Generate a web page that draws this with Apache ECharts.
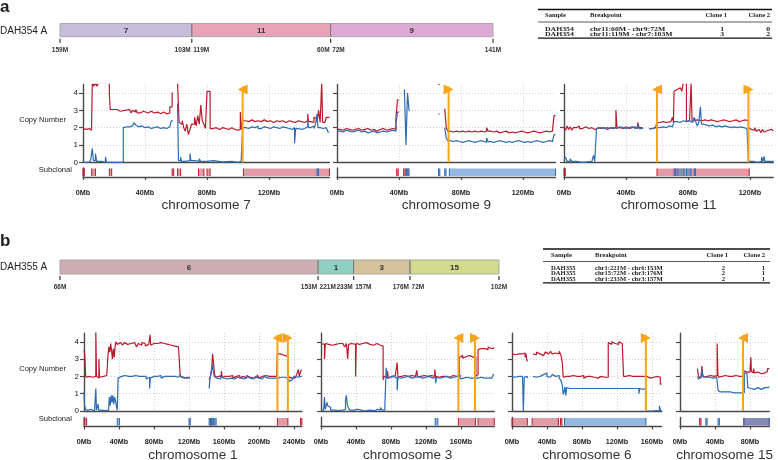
<!DOCTYPE html>
<html>
<head>
<meta charset="utf-8">
<script src="https://cdn.jsdelivr.net/npm/echarts@6/dist/echarts.min.js"></script>
<style>
html, body { margin: 0; padding: 0; background: #fff; }
#main { width: 778px; height: 460px; }
</style>
</head>
<body>
<div id="main"></div>
<script>
// copy number per haplotype, [position Mb, copies]; null = no data
const chr7Major = [[0,1.95],[1,1.9],[2.5,1.95],[4,1.85],[5.5,1.75],[6,4.6],[7,4.4],[8,4.6],[9,4.4],[10,4.6],[17,3.9],[17.6,3.05],[19,2.95],[20,3.05],[22,2.95],[24,2.9],[25,3.0],[27,2.9],[28,3.05],[30,2.95],[31,2.85],[32,3.0],[33,2.9],[34,3.05],[35,2.85],[37,2.95],[39,2.9],[40,2.85],[42,2.95],[44,2.85],[46,2.9],[48,2.8],[50,2.9],[52,2.8],[54,2.7],[55,2.85],[56,3.2],[57.5,4.0],[58,null],[61,4.6],[62,2.3],[63,2.2],[64,2.4],[65,2.0],[66,1.8],[67,2.2],[68,1.6],[69,1.9],[70,2.2],[72,2.6],[73,2.1],[74,2.7],[75,2.2],[76,3.3],[77,2.4],[78,2.2],[79,1.95],[80,4.1],[82,1.95],[84,2.0],[86,1.9],[88,2.0],[90,1.95],[92,1.9],[94,2.0],[96,1.9],[98,1.85],[100,1.9],[101.5,2.9],[102.2,1.9],[103,2.4],[105,2.35],[107,2.45],[109,2.35],[111,2.4],[113,2.35],[115,2.45],[117,2.35],[119,2.4],[121,2.3],[123,2.4],[125,2.35],[127,2.4],[129,2.3],[131,2.4],[133,2.35],[135,2.3],[137,2.4],[139,2.35],[141,2.3],[143,2.4],[145,2.8],[145.5,2.35],[147,2.3],[149,2.6],[150,2.5],[151,2.3],[152,3.0],[153,2.3],[154,4.6],[154.6,2.3],[156,2.35],[157,2.6],[159,2.6]]
const chr7Minor = [[0,0],[4,0.05],[5,0.15],[6,0.8],[6.7,0.1],[8,0.5],[8.8,0.05],[12,0],[14.5,0.3],[15.2,0],[26,2.0],[27,2.05],[28,1.95],[29,2.05],[30,2.0],[31,2.1],[32,2.0],[33,2.3],[34,2.15],[35,2.05],[36,2.1],[38,2.0],[40,2.05],[42,1.95],[44,2.0],[46,2.05],[48,1.95],[50,2.0],[52,1.95],[54,2.05],[56,1.95],[57,2.4],[58,null],[61,3.4],[61.6,0.1],[63,0.3],[63.5,0.05],[66,0.1],[69,0.5],[69.6,0.1],[72,0.05],[75,0.2],[76,0.05],[80,0.1],[84,0.02],[90,0.05],[96,0],[100,0.05],[102,0.1],[103,2.0],[105,1.95],[107,2.05],[109,2.0],[111,2.1],[113,1.95],[115,2.05],[117,2.0],[119,1.95],[121,2.05],[123,2.0],[125,1.95],[127,2.05],[129,2.0],[131,1.95],[133,1.9],[135,2.0],[136.5,1.1],[137.2,1.95],[139,1.9],[141,1.95],[143,2.05],[145,2.4],[145.6,2.0],[147,2.1],[149,1.95],[150,2.2],[151,2.8],[151.6,2.0],[153,1.95],[155,2.0],[157,1.9],[158,1.75],[159,1.75]]
const chr7SubRed = [[0,0.6],[5.6,8],[17,18.5],[57.5,58.5],[61,63],[74.5,78],[80,82],[103.5,159]]
const chr7SubBlue = [[151,152]]
const chr7Flags = [[103,-1]]

const chr9Major = [[0,1.9],[2,1.85],[4,1.95],[6,1.9],[8,1.85],[10,1.9],[12,1.95],[14,1.85],[16,1.9],[18,1.95],[20,1.85],[22,1.9],[24,1.8],[26,1.9],[28,1.95],[30,1.85],[32,1.9],[34,1.95],[36,1.9],[38,2.5],[39,3.6],[40,null],[43,4.6],[46,4.6],[47,null],[65.5,4.5],[66.3,null],[69.5,3.1],[70.5,2.0],[71.5,1.8],[73,1.75],[75,1.8],[77,1.75],[79,1.8],[81,1.75],[83,1.8],[85,1.75],[87,1.8],[89,1.75],[91,1.8],[93,1.75],[95,1.8],[96.5,2.0],[97.5,1.8],[99,1.75],[101,1.8],[103,1.7],[105,1.75],[107,1.8],[109,1.7],[111,1.75],[113,1.7],[115,1.75],[117,1.8],[119,1.75],[121,1.7],[123,1.75],[125,1.8],[127,1.75],[129,1.7],[131,1.75],[133,1.8],[135,1.75],[137,1.8],[139,1.7],[140,2.7],[141,2.7]]
const chr9Minor = [[0,1.8],[2,1.75],[4,1.85],[6,1.8],[8,1.75],[10,1.8],[12,1.85],[14,1.75],[16,1.8],[18,1.7],[20,1.75],[22,1.8],[24,1.7],[26,1.75],[28,1.8],[30,1.75],[32,1.8],[34,1.85],[36,1.8],[38,2.2],[39,2.9],[40,null],[43.5,4.2],[44.5,1.0],[45.5,4.0],[46.5,3.0],[47,null],[65.5,2.8],[66.3,null],[69.5,2.0],[70.5,1.4],[71.5,1.25],[73,1.2],[75,1.25],[77,1.2],[79,1.15],[81,1.2],[83,1.25],[85,1.2],[87,1.15],[89,1.2],[91,1.25],[93,1.2],[95,1.15],[96.5,1.4],[97.5,1.2],[99,1.15],[101,1.2],[103,1.25],[105,1.2],[107,1.15],[109,1.2],[111,1.15],[113,1.2],[115,1.25],[117,1.2],[119,1.15],[121,1.2],[123,1.15],[125,1.2],[127,1.25],[129,1.2],[131,1.15],[133,1.2],[135,1.25],[137,1.2],[139,1.25],[140,1.6],[141,1.6]]
const chr9SubRed = [[38.5,39.5],[43,44],[45,45.6]]
const chr9SubBlue = [[44.5,46.5],[65.5,66.2],[69.5,70.2],[72.5,141]]
const chr9Flags = [[72,1]]

const chr11Major = [[0,2.0],[1,1.85],[2,2.1],[3,1.9],[4,2.05],[5,1.85],[6,2.0],[8,1.9],[9,2.1],[10,1.95],[12,1.85],[13,2.05],[14,1.95],[16,2.0],[18,1.9],[20,2.0],[22,1.95],[24,2.0],[26,1.9],[28,2.0],[30,1.95],[32,2.05],[33.5,3.0],[34.2,2.0],[36,1.95],[38,2.05],[40,1.95],[42,2.0],[44,2.05],[46,1.95],[47.5,2.3],[48.5,2.0],[50,1.95],[51,null],[55,1.95],[57,2.0],[59,1.95],[60,2.3],[62,2.35],[64,2.3],[66,2.4],[67,2.35],[69,2.3],[70,2.6],[70.6,2.3],[71,4.1],[72,4.2],[73,4.1],[74,4.3],[75,4.2],[76,4.1],[77,4.6],[79,2.35],[80,2.4],[81,2.35],[82,4.6],[82.6,2.4],[84,2.45],[86,2.5],[87,2.4],[89,2.45],[91,2.4],[93,2.45],[95,2.4],[97,2.35],[99,2.4],[101,2.45],[103,2.4],[105,2.35],[107,2.4],[109,2.45],[111,2.35],[113,2.4],[115,2.45],[117,2.4],[119,2.0],[120,1.9],[121,1.95],[122,1.85],[123,2.0],[124,1.8],[125,1.9],[126,1.85],[127,1.7],[128,1.9],[129,1.75],[130,1.85],[132,1.8],[133,1.9],[134,1.8],[135,1.8]]
const chr11Minor = [[0,0.1],[1,0.3],[2,0.05],[4,0.2],[5,0.05],[8,0],[12,0.05],[18,0.15],[19,0.4],[19.8,0.05],[21,1.95],[22,2.0],[24,1.95],[26,2.0],[28,1.95],[30,2.0],[32,1.95],[34,2.05],[36,2.0],[38,1.95],[40,2.0],[42,2.05],[44,1.95],[46,2.0],[47.5,2.2],[48.5,1.95],[50,2.0],[51,null],[55,1.95],[57,2.0],[59,1.95],[60,2.0],[62,2.05],[64,2.0],[66,2.1],[68,2.05],[70,2.1],[71,2.35],[73,2.3],[75,2.4],[77,2.35],[79,2.4],[81,2.3],[83,2.4],[84,2.6],[85,2.35],[86,2.1],[87,2.3],[88,3.2],[88.7,2.2],[90,2.15],[92,2.1],[94,2.15],[96,2.05],[98,2.1],[100,2.05],[102,2.1],[104,2.05],[106,2.0],[108,2.05],[110,2.0],[112,2.05],[114,2.0],[116,1.95],[118,2.0],[119,0.05],[122,0],[125,0.05],[127.5,0.3],[128.5,0.05],[129,0.35],[129.6,0.05],[135,0]]
const chr11SubRed = [[0,0.6],[60,119.5]]
const chr11SubBlue = [[71,72],[73,77.5],[79,82],[84,84.8]]
const chr11Flags = [[60,-1],[119,1]]

const chr1Major = [[0,3.5],[0.8,3.3],[2,1.95],[3,1.85],[4,2.0],[6,1.9],[8,1.95],[10,1.85],[12,2.0],[13.5,4.6],[14.3,2.0],[16,1.9],[17,3.0],[17.8,1.95],[20,2.0],[22,1.9],[24,2.05],[26,2.0],[27.5,3.3],[28.5,3.7],[29.5,3.4],[30.5,3.9],[31.5,3.5],[32.5,3.0],[33.5,3.6],[34.5,3.1],[35.5,3.7],[36.5,4.0],[38,3.85],[40,3.95],[42,3.9],[44,3.8],[46,3.95],[48,3.85],[50,3.75],[52,3.9],[54,3.8],[56,3.95],[58,3.85],[60,3.7],[62,3.9],[64,3.8],[66,3.95],[68,3.9],[70,3.75],[72,3.85],[74,3.9],[75.5,4.4],[76.3,3.8],[78,3.9],[80,3.85],[82,3.9],[84,3.8],[86,3.95],[88,3.85],[90,3.9],[92,3.8],[94,3.85],[96,3.9],[98,3.8],[100,3.85],[102,3.75],[104,3.8],[106,3.7],[108,3.75],[110,2.0],[112,1.95],[114,2.05],[116,1.9],[118,2.0],[120,1.95],[121,null],[143,1.8],[144,1.9],[145,2.1],[146,2.5],[147,3.3],[148,2.8],[149,2.2],[150,1.95],[152,2.0],[154,1.9],[156,2.05],[157,2.3],[158,1.95],[160,2.0],[162,1.9],[164,2.0],[166,1.95],[168,2.05],[170,1.9],[172,2.0],[174,1.95],[176,2.05],[178,1.9],[180,2.0],[182,1.95],[184,1.9],[186,2.05],[188,1.95],[190,2.0],[192,1.9],[194,2.0],[196,1.95],[198,2.1],[200,1.9],[202,2.0],[204,1.95],[206,2.05],[208,1.95],[210,2.0],[212,1.9],[214,2.0],[216,1.95],[218,2.0],[220,1.95],[221,3.3],[224,3.25],[227,3.2],[230,3.15],[233,2.0],[235,1.9],[237,1.8],[239,1.9],[241,2.0],[243,2.1],[245,2.4],[246,2.0],[248,2.35],[249,2.35]]
const chr1Minor = [[0,1.1],[0.6,0.3],[1.5,0.2],[2.5,0.05],[5,0.1],[8,0],[12,0.05],[13.5,1.3],[14.2,0.05],[16,0.4],[16.8,0.05],[20,0.02],[24,0.05],[28,0.1],[29,0.8],[30,0.3],[31,0.9],[32,0.5],[33,0.9],[34,0.4],[35,0.8],[36,0.6],[37,0.3],[38,0.05],[39,1.9],[41,2.0],[43,1.95],[45,2.05],[47,1.95],[49,2.0],[51,1.9],[53,2.0],[55,1.95],[57,2.05],[59,1.95],[61,2.0],[63,1.9],[65,2.0],[67,1.95],[69,2.0],[71,1.85],[73,1.95],[75,1.3],[75.8,1.9],[78,2.0],[80,1.95],[82,2.0],[84,1.95],[86,2.05],[88,1.9],[90,2.0],[92,1.95],[94,2.0],[96,1.9],[98,2.0],[100,1.95],[102,2.0],[104,1.9],[106,1.95],[108,2.0],[110,2.1],[111,1.95],[113,1.9],[115,2.0],[117,1.95],[119,1.9],[121,null],[143,1.3],[144,1.9],[145,2.0],[146,2.4],[147,2.7],[148,2.2],[149,2.0],[150,1.9],[152,1.95],[154,1.85],[156,2.0],[158,1.9],[160,1.95],[162,1.85],[164,1.95],[166,1.9],[168,2.0],[170,1.85],[172,1.9],[174,1.95],[176,1.85],[178,1.9],[180,1.95],[182,1.85],[184,1.9],[186,2.0],[188,1.9],[190,1.95],[192,1.85],[194,1.9],[196,2.0],[198,1.9],[200,1.95],[202,1.85],[204,1.9],[206,2.0],[208,1.9],[210,1.95],[212,1.9],[214,2.0],[216,1.9],[218,1.95],[220,1.9],[222,2.0],[224,1.95],[226,1.9],[228,1.95],[230,1.9],[232,1.85],[234,1.7],[236,1.8],[238,1.9],[240,2.0],[242,1.95],[244,2.05],[246,2.0],[248,2.0],[249,2.0]]
const chr1SubRed = [[0,3],[144.5,145.5],[221,233],[247.5,249]]
const chr1SubBlue = [[38,40.5],[120,121],[143,144],[146.5,148],[149.5,150.5]]
const chr1Flags = [[221,-1],[233,1]]

const chr3Major = [[0,3.9],[2,3.85],[4,3.0],[5,3.9],[7,3.85],[9,3.95],[11,3.8],[13,3.9],[15,3.85],[17,3.95],[19,3.9],[21,3.8],[23,3.9],[25,3.85],[27,3.7],[29,3.9],[30.5,3.0],[31.5,3.85],[33,3.9],[35,3.95],[37,3.85],[39.5,2.0],[40.3,3.9],[42,3.85],[44,3.95],[46,3.9],[48,3.8],[50,3.95],[52,3.9],[54,3.85],[56,3.9],[58,3.8],[60,3.85],[62,3.9],[64,3.85],[66,3.8],[68,3.85],[70,3.75],[71,1.8],[72,2.0],[74,1.95],[76,2.3],[77,1.9],[79,2.0],[81,1.95],[83,2.05],[85,1.95],[87,2.8],[88,1.95],[90,2.0],[92,1.9],[94,2.05],[96,1.95],[98,2.0],[100,1.9],[102,2.05],[104,1.95],[106,2.0],[108,1.95],[109.5,2.35],[110.3,1.95],[112,2.0],[114,1.9],[116,2.05],[118,1.95],[120,2.0],[122,1.95],[124,2.05],[126,1.95],[128,2.0],[130,2.4],[131,2.0],[133,1.95],[135,2.05],[137,2.0],[139,1.95],[141,2.0],[143,2.05],[145,1.95],[147,2.0],[149,2.05],[151,1.95],[153,2.0],[155,2.05],[157,2.0],[158,3.1],[160,3.2],[162,3.05],[164,3.15],[166,3.1],[168,3.2],[170,3.15],[172,3.1],[174,3.2],[176,3.15],[177,2.0],[178.5,2.1],[179.5,3.55],[181,3.6],[183,3.7],[185,3.6],[187,3.65],[189,3.55],[191,3.7],[193,3.6],[195,3.7],[197,3.65],[198,3.65]]
const chr3Minor = [[0,0.05],[3,0.1],[4,0.8],[4.8,0.1],[7,0.5],[7.8,0.3],[9,0.2],[11,0.05],[15,0.02],[20,0.05],[25,0.1],[28,0.6],[29,0.9],[30,0.4],[31,0.2],[33,0.05],[38,0.1],[42,0.05],[46,0],[50,0.05],[55,0.1],[57,0.02],[62,0.1],[65,0.05],[68,0.2],[70,0.05],[73,0.3],[74.5,2.5],[75.5,1.9],[77,1.95],[79,1.9],[81,2.0],[83,1.95],[85,1.9],[87,1.2],[88,1.95],[90,1.9],[92,2.0],[94,1.95],[96,1.9],[98,2.0],[100,1.95],[102,1.9],[104,2.0],[106,1.95],[108,1.9],[110,2.0],[112,1.95],[114,1.9],[116,2.0],[118,1.95],[120,1.9],[122,2.0],[124,1.95],[126,1.9],[128,2.0],[130,1.95],[131,1.6],[132,1.95],[134,1.9],[136,2.0],[138,1.95],[140,1.9],[142,2.0],[144,1.95],[146,1.9],[148,2.0],[150,1.95],[152,1.9],[154,2.0],[156,1.95],[157,2.1],[159,1.85],[161,1.9],[163,1.85],[165,1.95],[167,1.85],[169,1.9],[171,1.85],[173,1.9],[175,1.8],[177,1.9],[179,1.85],[181,1.95],[183,1.85],[185,1.9],[187,1.95],[189,1.9],[191,1.95],[193,1.9],[195,2.0],[197,2.1],[198,2.1]]
const chr3SubRed = [[157,176.5],[179.5,198]]
const chr3SubBlue = [[130.5,133.5]]
const chr3Flags = [[157,-1],[176,1]]

const chr6Major = [[0,3.3],[2,3.25],[4,3.35],[6,3.3],[8,3.2],[10,3.3],[12,3.25],[14,3.35],[15,3.1],[16,3.3],[17,2.9],[18,null],[24,3.3],[26,3.25],[28,3.4],[30,3.3],[32,3.35],[34,3.2],[36,3.3],[38,3.4],[40,3.3],[42,3.35],[44,3.45],[46,3.3],[48,3.35],[50,3.4],[52,3.3],[54,3.45],[56,3.2],[57.5,2.8],[58.5,1.95],[60,2.0],[62,1.9],[64,2.0],[66,1.95],[68,2.05],[70,1.95],[72,2.0],[74,1.9],[76,2.0],[78,1.95],[80,2.05],[82,1.9],[84,2.0],[86,1.95],[88,2.0],[90,1.9],[92,1.95],[94,2.0],[96,1.9],[98,1.95],[100,2.0],[102,1.9],[104,1.95],[106,1.9],[108,1.95],[110,3.95],[112,3.85],[114,4.0],[116,3.9],[118,3.95],[120,3.85],[122,4.0],[124,3.9],[126,3.95],[127.5,2.0],[130,1.95],[132,2.05],[134,1.95],[136,2.0],[138,1.9],[140,2.0],[142,1.95],[144,2.0],[146,1.9],[148,2.0],[150,1.95],[152,2.0],[154,1.95],[156,1.9],[158,2.0],[160,1.95],[162,1.9],[164,2.0],[166,1.9],[168,1.95],[169.5,1.55],[171,1.55]]
const chr6Minor = [[0,2.0],[2,1.95],[4,2.05],[6,2.0],[8,1.95],[10,2.0],[12,1.9],[13,0.0],[14,1.95],[15,2.05],[16,2.0],[17,1.9],[18,null],[24,2.0],[26,1.95],[28,2.05],[30,2.0],[32,1.95],[34,2.1],[36,2.0],[38,2.2],[40,2.0],[42,1.95],[44,2.05],[46,2.1],[48,2.0],[50,1.95],[52,2.05],[54,1.9],[56,1.75],[57.5,1.5],[58.5,0.95],[59.5,1.1],[60.5,1.4],[61.5,0.9],[62.5,1.35],[64,1.3],[66,1.35],[68,1.3],[70,1.25],[72,1.3],[74,1.35],[76,1.3],[78,1.25],[80,1.3],[82,1.35],[84,1.3],[86,1.25],[88,1.3],[90,1.35],[92,1.3],[94,1.25],[96,1.3],[98,1.35],[100,1.3],[102,1.25],[104,1.3],[106,1.35],[108,1.3],[110,1.25],[112,1.3],[114,1.35],[116,1.3],[118,1.25],[120,1.3],[122,1.35],[124,1.3],[126,1.25],[128,1.3],[130,1.35],[132,1.3],[134,1.25],[136,1.3],[138,1.35],[140,1.3],[142,1.25],[144,1.3],[145,1.0],[146,1.3],[148,1.25],[150,1.3],[152,1.3],[153,0],[160,0.02],[165,0],[168.5,0.3],[169.5,0.05],[171,0]]
const chr6SubRed = [[0,17.5],[23,53],[55.5,56.5]]
const chr6SubBlue = [[60,153]]
const chr6Flags = [[153,1]]

const chr15Major = [[20,2.45],[21,2.0],[22,2.05],[23,1.9],[24,2.0],[25,2.6],[26,2.1],[27,1.95],[29,2.0],[31,1.95],[33,2.05],[35,1.95],[37,2.0],[39,1.95],[41,2.05],[42.5,3.9],[43.3,2.1],[44,1.95],[46,2.0],[48,1.95],[50,2.05],[52,1.95],[54,2.0],[56,1.95],[58,2.0],[60,1.95],[62,2.05],[64,1.95],[66,2.0],[68,1.95],[70,2.0],[72,1.95],[73.5,2.3],[75,2.25],[77,2.35],[78,2.2],[79,2.25],[80,2.4],[81,3.1],[81.6,2.3],[83,2.2],[84,2.45],[85,2.2],[87,2.25],[89,2.2],[91,2.15],[93,2.25],[95,2.2],[97,2.15],[99,2.3],[100,2.45],[102,2.45]]
const chr15Minor = [[20,2.0],[21,1.85],[22,1.95],[24,2.0],[25,2.4],[26,2.0],[28,1.95],[30,2.0],[32,1.95],[34,2.0],[36,1.9],[38,2.0],[40,1.95],[42,2.0],[43.5,1.2],[44.5,1.1],[46,1.05],[48,1.1],[50,1.05],[52,1.1],[54,1.05],[56,1.1],[58,1.0],[60,1.05],[62,1.1],[64,1.05],[66,1.1],[68,1.05],[70,1.1],[72,1.05],[73.5,2.15],[75,2.2],[76.5,2.1],[77.5,1.35],[79,1.3],[81,1.35],[83,1.25],[85,1.3],[87,1.35],[89,1.3],[91,1.25],[93,1.3],[95,1.35],[97,1.3],[99,1.35],[101,1.4],[102,1.4]]
const chr15SubRed = [[22.5,23.5],[73,102]]
const chr15SubBlue = [[29.5,30.5],[43.5,44.5],[73,102]]
const chr15Flags = [[72,-1]]

// rearranged chromosome strips: [chromosome, from Mb, to Mb]
const stripA = [['7', 159, 103], ['11', 119, 60], ['9', 72, 141]]
const stripB = [['6', 66, 153], ['1', 221, 233], ['3', 157, 176], ['15', 72, 102]]
const stripColorsA = ['#c5bdd9', '#e8a3b9', '#dfa9d6']
const stripColorsB = ['#cfaeb2', '#8fd1c1', '#d6c29a', '#d3db8d']

const tableHead = ['Sample', 'Breakpoint', 'Clone 1', 'Clone 2']
const tableARows = [['DAH354', 'chr11:60M - chr9:72M', '1', '0'], ['DAH354', 'chr11:119M - chr7:103M', '3', '2']]
const tableBRows = [['DAH355', 'chr1:221M - chr6:153M', '2', '1'], ['DAH355', 'chr15:72M - chr3:176M', '2', '1'], ['DAH355', 'chr1:233M - chr3:157M', '2', '1']]

const RED = '#bb1a2e'
const BLUE = '#2d6cb3'
const ORANGE = '#f8a51b'
const AXIS = '#4a4a4a'
const GRIDC = '#c9c9c9'
const FONT = '"Liberation Sans", Arial, sans-serif'
const SERIF = '"Liberation Serif", "DejaVu Serif", serif'

const rows = [
    { mainTop: 84.4, subTop: 168, pxPerMb: 1.55 },
    { mainTop: 333.1, subTop: 417.5, pxPerMb: 0.875 }
]
const MAIN_H = 77.9
const SUB_H = 9

const panels = [
    { title: 'chromosome 7', len: 159, left: 83, row: 0, major: chr7Major, minor: chr7Minor, subRed: chr7SubRed, subBlue: chr7SubBlue, flags: chr7Flags },
    { title: 'chromosome 9', len: 141, left: 337, row: 0, major: chr9Major, minor: chr9Minor, subRed: chr9SubRed, subBlue: chr9SubBlue, flags: chr9Flags },
    { title: 'chromosome 11', len: 135, left: 564, row: 0, major: chr11Major, minor: chr11Minor, subRed: chr11SubRed, subBlue: chr11SubBlue, flags: chr11Flags },
    { title: 'chromosome 1', len: 249, left: 84, row: 1, major: chr1Major, minor: chr1Minor, subRed: chr1SubRed, subBlue: chr1SubBlue, flags: chr1Flags },
    { title: 'chromosome 3', len: 198, left: 321, row: 1, major: chr3Major, minor: chr3Minor, subRed: chr3SubRed, subBlue: chr3SubBlue, flags: chr3Flags },
    { title: 'chromosome 6', len: 171, left: 512, row: 1, major: chr6Major, minor: chr6Minor, subRed: chr6SubRed, subBlue: chr6SubBlue, flags: chr6Flags },
    { title: 'chromosome 15', len: 102, left: 680, row: 1, major: chr15Major, minor: chr15Minor, subRed: chr15SubRed, subBlue: chr15SubBlue, flags: chr15Flags }
]

const grids = [], xAxes = [], yAxes = [], series = []

function splitColors(n) {
    // hide the extra split line ECharts puts on the axis max
    return Array(n).fill(GRIDC).concat(['rgba(0,0,0,0)'])
}

function flagRender(params, api) {
    const x = api.value(0), dir = api.value(1)
    const top = api.coord([x, 4.5]), bot = api.coord([x, 0])
    const cx = top[0], ty = top[1]
    return {
        type: 'group',
        children: [
            { type: 'line', shape: { x1: cx, y1: ty + 2, x2: cx, y2: bot[1] }, style: { stroke: ORANGE, lineWidth: 2 } },
            { type: 'polygon', shape: { points: [[cx - dir * 5, ty], [cx - dir * 5, ty + 10], [cx + dir * 5, ty + 5]] }, style: { fill: ORANGE } }
        ]
    }
}

function subRender(params, api) {
    const a = api.coord([api.value(0), 1]), b = api.coord([api.value(1), 0])
    const blue = api.value(2) === 1
    const edge = blue ? BLUE : RED
    const w = Math.max(b[0] - a[0], 1.3)
    return {
        type: 'group',
        children: [
            { type: 'rect', shape: { x: a[0], y: a[1] + 0.5, width: w, height: b[1] - a[1] - 1.5 }, style: { fill: blue ? 'rgba(60,125,200,0.55)' : 'rgba(200,55,80,0.5)' } },
            { type: 'line', shape: { x1: a[0], y1: a[1] + 0.5, x2: a[0], y2: b[1] - 1 }, style: { stroke: edge, lineWidth: 1 } },
            { type: 'line', shape: { x1: a[0] + w, y1: a[1] + 0.5, x2: a[0] + w, y2: b[1] - 1 }, style: { stroke: edge, lineWidth: 1 } }
        ]
    }
}

panels.forEach((p, i) => {
    const r = rows[p.row]
    const width = p.len * r.pxPerMb
    const gi = i * 2, si = i * 2 + 1
    const firstInRow = p.left < 100
    const xTicks = []
    for (let v = 0; v <= p.len; v += 40) xTicks.push(v)

    grids.push({ left: p.left, top: r.mainTop, width: width, height: MAIN_H, outerBoundsMode: 'none', containLabel: false })
    grids.push({ left: p.left, top: r.subTop, width: width, height: SUB_H, outerBoundsMode: 'none', containLabel: false })

    xAxes.push({
        type: 'value', gridIndex: gi, min: 0, max: p.len, interval: 40,
        axisLine: { lineStyle: { color: AXIS, width: 1.4 } },
        axisTick: { show: false }, axisLabel: { show: false },
        splitLine: { show: true, lineStyle: { color: splitColors(xTicks.length), type: [1, 2], width: 0.9 } }
    })
    xAxes.push({
        type: 'value', gridIndex: si, min: 0, max: p.len, interval: 40,
        axisLine: { lineStyle: { color: AXIS, width: 1.4 } },
        axisTick: { show: true, length: 3, customValues: xTicks, lineStyle: { color: AXIS, width: 1.2 } },
        axisLabel: {
            margin: 12.5, fontSize: 7.2, fontWeight: 'bold', color: '#222', fontFamily: FONT,
            formatter: v => (v % 40 === 0 ? v + 'Mb' : '')
        },
        splitLine: { show: false },
        name: p.title, nameLocation: 'middle', nameGap: 21.5,
        nameTextStyle: { fontSize: 13.5, color: '#333', fontFamily: FONT }
    })

    yAxes.push({
        type: 'value', gridIndex: gi, min: 0, max: 4.5, interval: 1,
        axisLine: { show: true, lineStyle: { color: AXIS, width: 1.4 } },
        axisTick: { show: true, length: 4, customValues: [0, 1, 2, 3, 4], lineStyle: { color: AXIS, width: 1.2 } },
        axisLabel: {
            show: firstInRow, margin: 5, fontSize: 8, color: '#222', fontFamily: FONT,
            formatter: v => (Number.isInteger(v) ? String(v) : '')
        },
        splitLine: { show: true, lineStyle: { color: splitColors(5), type: [1, 2], width: 0.9 } }
    })
    yAxes.push({
        type: 'value', gridIndex: si, min: 0, max: 1,
        axisLine: { show: true, lineStyle: { color: AXIS, width: 1.4 } },
        axisTick: { show: false }, axisLabel: { show: false }, splitLine: { show: false }
    })

    series.push({
        type: 'line', xAxisIndex: gi, yAxisIndex: gi, data: p.major, step: 'end',
        showSymbol: false, clip: true, lineStyle: { color: RED, width: 1.2 }, silent: true
    })
    series.push({
        type: 'line', xAxisIndex: gi, yAxisIndex: gi, data: p.minor, step: 'end',
        showSymbol: false, clip: true, lineStyle: { color: BLUE, width: 1.2 }, silent: true
    })
    series.push({
        type: 'custom', xAxisIndex: gi, yAxisIndex: gi, data: p.flags,
        encode: { x: 0 }, renderItem: flagRender, silent: true, z: 5
    })
    series.push({
        type: 'custom', xAxisIndex: si, yAxisIndex: si,
        data: p.subRed.map(s => [s[0], s[1], 0]).concat(p.subBlue.map(s => [s[0], s[1], 1])),
        encode: { x: [0, 1] }, renderItem: subRender, silent: true
    })
})

function stripSeries(segs, colors, idx) {
    let off = 0
    const data = segs.map((s, i) => {
        const len = Math.abs(s[2] - s[1])
        const d = [off, off + len, i]
        off += len
        return d
    })
    grids.push({ left: 60, top: idx === 0 ? 23.5 : 260, width: idx === 0 ? 433 : 439, height: idx === 0 ? 13.2 : 14, outerBoundsMode: 'none', containLabel: false })
    const gi = grids.length - 1
    xAxes.push({ type: 'value', gridIndex: gi, min: 0, max: off, show: false })
    yAxes.push({ type: 'value', gridIndex: gi, min: 0, max: 1, show: false })
    const labFont = 'bold 6.5px ' + FONT
    const txt = (x, y, text, align, font) => ({
        type: 'text', x: x, y: y,
        style: { text: text, font: font, fill: '#333', align: align, textAlign: align, verticalAlign: 'middle', textVerticalAlign: 'middle' }
    })
    series.push({
        type: 'custom', xAxisIndex: gi, yAxisIndex: gi, data: data, encode: { x: [0, 1] }, silent: true,
        renderItem: (params, api) => {
            const i = api.value(2), seg = segs[i]
            const a = api.coord([api.value(0), 1]), b = api.coord([api.value(1), 0])
            const last = i === segs.length - 1
            const children = [
                { type: 'rect', shape: { x: a[0], y: a[1], width: b[0] - a[0], height: b[1] - a[1] }, style: { fill: colors[i], stroke: '#a8a8a8', lineWidth: 1 } },
                txt((a[0] + b[0]) / 2, (a[1] + b[1]) / 2 + 0.5, seg[0], 'center', 'bold 8px ' + FONT),
                { type: 'line', shape: { x1: a[0], y1: b[1] + 2, x2: a[0], y2: b[1] + 6 }, style: { stroke: '#333', lineWidth: 1.2 } },
                txt(i === 0 ? a[0] : a[0] + 1.5, b[1] + 13.5, seg[1] + 'M', i === 0 ? 'center' : 'left', labFont),
                txt(last ? b[0] : b[0] - 1, b[1] + 13.5, seg[2] + 'M', last ? 'center' : 'right', labFont)
            ]
            if (i > 0) children.push({ type: 'line', shape: { x1: a[0], y1: a[1], x2: a[0], y2: b[1] }, style: { stroke: '#777', lineWidth: 1 } })
            if (last) children.push({ type: 'line', shape: { x1: b[0], y1: b[1] + 2, x2: b[0], y2: b[1] + 6 }, style: { stroke: '#333', lineWidth: 1.2 } })
            return { type: 'group', children: children }
        }
    })
}
stripSeries(stripA, stripColorsA, 0)
stripSeries(stripB, stripColorsB, 1)

// free text and the two small tables
const graphic = []
function gText(x, y, text, font, align, sx) {
    graphic.push({
        type: 'text', x: x, y: y, scaleX: sx || 1, silent: true,
        style: { text: text, font: font, fill: '#222', align: align || 'left', textAlign: align || 'left', verticalAlign: 'middle', textVerticalAlign: 'middle' }
    })
}
function gLine(x1, y1, x2, y2, w) {
    graphic.push({ type: 'line', silent: true, shape: { x1: x1, y1: y1, x2: x2, y2: y2 }, style: { stroke: '#111', lineWidth: w } })
}
gText(0, 7, 'a', 'bold 17px ' + FONT)
gText(0, 241, 'b', 'bold 17px ' + FONT)
gText(0, 31, 'DAH354 A', '10px ' + FONT)
gText(0, 267, 'DAH355 A', '10px ' + FONT)
gText(66, 120, 'Copy Number', '7.6px ' + FONT, 'right')
gText(72, 169.5, 'Subclonal', '7.6px ' + FONT, 'right')
gText(66, 369, 'Copy Number', '7.6px ' + FONT, 'right')
gText(72, 418.5, 'Subclonal', '7.6px ' + FONT, 'right')

function table(x0, x1, top, rowsData, cols, rowFont, rowScale) {
    const f = 'bold 6.6px ' + SERIF
    const rf = 'bold ' + rowFont + 'px ' + SERIF
    gLine(x0, top, x1, top, 1.3)
    gText(cols[0], top + 6, tableHead[0], f)
    gText(cols[1], top + 6, tableHead[1], f)
    gText(cols[2], top + 6, tableHead[2], f, 'right')
    gText(cols[3], top + 6, tableHead[3], f, 'right')
    gLine(x0, top + 12.5, x1, top + 12.5, 0.7)
    rowsData.forEach((r, k) => {
        const y = top + 19.5 + k * 5.3
        gText(cols[0], y, r[0], rf, 'left', rowScale)
        gText(cols[1], y, r[1], rf, 'left', rowScale)
        gText(cols[2] - 3, y, r[2], rf, 'right', rowScale)
        gText(cols[3], y, r[3], rf, 'right', rowScale)
    })
    gLine(x0, top + 19.5 + rowsData.length * 5.3 - 1.5, x1, top + 19.5 + rowsData.length * 5.3 - 1.5, 1.3)
}
table(538, 772, 9.5, tableARows, [545, 590, 727, 770], 6.3, 1.23)
table(543, 770, 249, tableBRows, [551, 595, 728, 765], 5.9, 1.12)

const chart = echarts.init(document.getElementById('main'))
chart.setOption({
    animation: false,
    backgroundColor: '#fff',
    grid: grids,
    xAxis: xAxes,
    yAxis: yAxes,
    series: series,
    graphic: graphic
})
</script>
</body>
</html>
